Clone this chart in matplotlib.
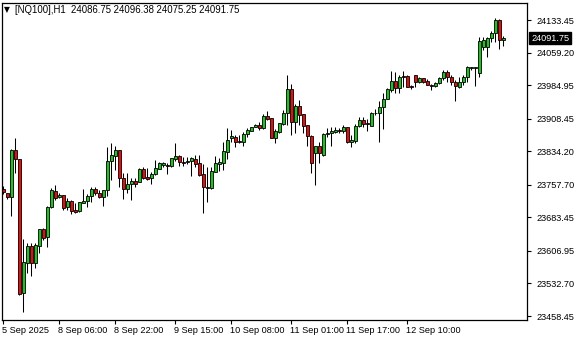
import numpy as np
import matplotlib
matplotlib.use("Agg")
import matplotlib.pyplot as plt
import matplotlib.transforms as mtrans

plt.rcParams['font.family'] = ['Liberation Sans', 'DejaVu Sans']

# NQ100 H1 candles (oldest -> newest)
opens = [23748.1, 23738.3, 23730.5, 23837.0, 23815.8, 23510.2, 23580.0, 23618.1, 23578.6, 23618.8,
         23656.9, 23637.9, 23706.3, 23743.5, 23730.5, 23734.4, 23706.3, 23720.7, 23700.2, 23697.9,
         23716.8, 23720.7, 23732.1, 23747.4, 23738.3, 23729.1, 23745.8, 23811.9, 23824.0, 23837.0,
         23773.8, 23747.4, 23758.8, 23766.3, 23764.7, 23793.0, 23775.4, 23773.8, 23781.6, 23794.4,
         23802.1, 23803.5, 23801.2, 23817.2, 23823.3, 23810.3, 23809.0, 23811.9, 23815.8, 23806.7,
         23781.6, 23752.6, 23749.7, 23787.5, 23805.1, 23808.0, 23833.1, 23863.7, 23866.0, 23858.2,
         23855.9, 23873.5, 23881.0, 23888.8, 23894.0, 23887.9, 23914.5, 23909.3, 23865.1, 23878.7,
         23895.6, 23922.1, 23976.1, 23901.5, 23937.3, 23919.1, 23894.0, 23868.9, 23830.8, 23846.1,
         23825.6, 23872.8, 23875.1, 23878.7, 23882.6, 23881.0, 23888.8, 23854.6, 23858.2, 23891.7,
         23905.4, 23899.3, 23892.4, 23920.7, 23920.7, 23934.4, 23953.3, 23973.8, 23995.0, 23977.7,
         24005.8, 24005.8, 23983.0, 24008.0, 23992.8, 24000.5, 23995.5, 23985.2, 23983.0, 23989.1,
         24000.5, 24015.6, 24004.2, 23992.8, 23981.4, 23992.8, 24004.2, 24023.3, 24023.3, 24013.3,
         24071.2, 24071.2, 24091.7, 24103.1, 24133.5, 24086.75]
highs = [23754.9, 23739.6, 23839.3, 23863.7, 23816.5, 23634.0, 23625.6, 23625.6, 23625.6, 23656.9,
         23659.8, 23709.3, 23749.7, 23756.5, 23739.6, 23735.0, 23728.2, 23723.0, 23716.8, 23719.1,
         23747.4, 23736.7, 23753.3, 23753.3, 23745.8, 23746.5, 23844.5, 23852.3, 23846.1, 23837.5,
         23785.2, 23783.9, 23773.8, 23773.8, 23796.6, 23797.6, 23795.3, 23787.5, 23814.2, 23810.3,
         23809.6, 23808.0, 23819.4, 23853.7, 23825.6, 23821.7, 23821.7, 23821.7, 23825.6, 23825.6,
         23804.4, 23797.6, 23798.9, 23823.3, 23818.1, 23855.9, 23886.5, 23882.6, 23870.5, 23870.5,
         23878.1, 23887.9, 23890.2, 23895.6, 23901.5, 23919.1, 23925.9, 23910.5, 23884.2, 23899.3,
         23928.2, 24008.0, 23987.5, 23941.9, 23951.0, 23919.5, 23894.5, 23871.2, 23846.5, 23855.9,
         23875.1, 23886.5, 23888.8, 23890.2, 23887.9, 23894.0, 23889.3, 23871.2, 23895.6, 23911.6,
         23912.9, 23907.0, 23924.3, 23929.8, 23948.7, 23966.3, 23979.1, 24017.2, 24015.6, 24008.0,
         24017.2, 24008.0, 23985.2, 24008.5, 24003.5, 24002.3, 23998.9, 23987.5, 23991.4, 24004.2,
         24019.4, 24019.4, 24008.0, 23996.6, 24004.2, 24008.0, 24028.6, 24026.9, 24026.9, 24095.4,
         24095.4, 24095.4, 24109.1, 24137.3, 24135.1, 24096.38]
lows = [23736.7, 23725.3, 23687.6, 23785.2, 23506.3, 23468.3, 23557.2, 23550.4, 23568.6, 23602.8,
        23631.8, 23616.5, 23704.1, 23723.0, 23726.9, 23700.2, 23700.2, 23691.1, 23694.0, 23696.3,
        23715.5, 23706.3, 23719.1, 23734.4, 23726.9, 23709.3, 23732.8, 23768.6, 23791.4, 23753.3,
        23725.3, 23738.3, 23723.0, 23753.3, 23763.3, 23770.2, 23768.6, 23758.8, 23780.0, 23793.0,
        23798.9, 23781.6, 23797.6, 23812.6, 23800.5, 23801.2, 23805.1, 23778.4, 23798.9, 23777.7,
        23694.0, 23719.1, 23748.8, 23787.0, 23789.8, 23791.4, 23815.8, 23855.9, 23844.5, 23852.3,
        23846.1, 23867.3, 23880.3, 23888.8, 23882.6, 23884.2, 23905.4, 23863.7, 23852.3, 23875.1,
        23894.0, 23894.0, 23871.2, 23875.1, 23894.0, 23875.1, 23846.1, 23783.9, 23757.2, 23808.0,
        23823.3, 23867.3, 23846.1, 23875.1, 23875.1, 23876.4, 23852.3, 23844.5, 23852.3, 23890.2,
        23890.2, 23881.0, 23891.7, 23916.8, 23855.9, 23884.9, 23952.6, 23969.9, 23966.3, 23966.3,
        23981.4, 23980.0, 23975.4, 23981.4, 23989.8, 23988.7, 23984.6, 23973.8, 23980.0, 23987.5,
        23996.6, 23992.8, 23985.2, 23949.4, 23977.7, 23985.2, 23992.8, 24019.4, 23983.0, 24004.2,
        24065.0, 24049.8, 24084.0, 24084.0, 24066.6, 24075.25]
closes = [23741.2, 23730.5, 23837.0, 23815.8, 23508.6, 23580.9, 23618.1, 23578.6, 23620.4, 23656.2,
          23637.0, 23706.3, 23745.8, 23728.2, 23734.4, 23704.1, 23720.7, 23697.9, 23696.3, 23717.7,
          23720.7, 23732.1, 23747.4, 23738.3, 23729.1, 23745.8, 23811.9, 23825.6, 23837.0, 23773.8,
          23747.4, 23759.5, 23766.3, 23758.8, 23793.7, 23773.8, 23771.6, 23782.3, 23796.0, 23806.7,
          23806.7, 23800.5, 23818.1, 23823.3, 23809.6, 23808.0, 23812.6, 23818.1, 23805.1, 23780.7,
          23752.6, 23751.0, 23789.1, 23806.7, 23810.3, 23834.7, 23859.8, 23868.9, 23855.9, 23855.9,
          23872.8, 23882.6, 23889.5, 23894.0, 23887.2, 23914.5, 23907.7, 23865.1, 23880.3, 23897.9,
          23922.1, 23976.1, 23901.5, 23937.3, 23916.8, 23891.7, 23868.9, 23808.0, 23846.1, 23830.8,
          23872.8, 23876.4, 23880.3, 23882.6, 23879.6, 23890.2, 23854.6, 23859.8, 23891.7, 23905.4,
          23895.6, 23895.6, 23922.1, 23922.1, 23934.4, 23952.6, 23975.4, 23995.0, 23977.7, 24002.8,
          24004.2, 23981.4, 23980.0, 23992.8, 24000.5, 23992.1, 23986.4, 23983.0, 23989.1, 24000.5,
          24015.6, 24004.2, 23992.8, 23983.0, 23992.8, 24004.2, 24025.6, 24025.6, 24025.6, 24085.6,
          24087.8, 24091.7, 24103.1, 24133.5, 24087.8, 24091.75]

price_ticks = [23458.45, 23532.70, 23606.95, 23683.45, 23757.70, 23834.20, 23908.45, 23984.95, 24059.20, 24133.45]
time_pos = [0, 14, 28, 43, 57, 72, 86, 101]
time_labels = ['5 Sep 2025', '8 Sep 06:00', '8 Sep 22:00', '9 Sep 15:00',
               '10 Sep 08:00', '11 Sep 01:00', '11 Sep 17:00', '12 Sep 10:00']
header = '[NQ100],H1  24086.75 24096.38 24075.25 24091.75'
last_price = 24091.75

bull = '#22c022'
bear = '#e01010'

o = np.array(opens); h = np.array(highs); l = np.array(lows); c = np.array(closes)
x = np.arange(len(o))

fig = plt.figure(figsize=(5.8, 3.4), dpi=100)
ax = fig.add_axes([2/580, 1-319.5/340, 525/580, 317/340])

ax.vlines(x, l, h, color='black', linewidth=0.75, zorder=1)
cols = [bull if cc >= oo else bear for oo, cc in zip(o, c)]
ax.bar(x, c-o, bottom=o, width=0.62, color=cols, edgecolor='black', linewidth=0.6, zorder=2)

ax.set_xlim(-0.33, -0.33 + 525/4)
ax.set_ylim(23450.5, 24173.4)

ax.yaxis.tick_right()
ax.set_yticks(price_ticks)
ax.set_yticklabels(['%.2f' % v for v in price_ticks])
ax.tick_params(axis='y', length=3, width=0.8, pad=4, labelsize=6.6, direction='out')

ax.set_xticks(time_pos)
ax.set_xticklabels(time_labels, ha='left')
ax.tick_params(axis='x', length=3, width=0.8, pad=1.5, labelsize=6.6, direction='out')
offs = mtrans.ScaledTranslation(-1/100, 0, fig.dpi_scale_trans)
for lab in ax.get_xticklabels():
    lab.set_transform(lab.get_transform() + offs)

for s in ax.spines.values():
    s.set_linewidth(0.9)
    s.set_color('black')

# current price marker
trans = mtrans.blended_transform_factory(ax.transAxes, ax.transData)
ax.text(1.0 + 4/525, last_price, '%.2f' % last_price, transform=trans, color='white',
        fontsize=6.6, va='center', ha='left',
        bbox=dict(facecolor='black', edgecolor='black', pad=1.2), zorder=5, clip_on=False)

fig.text(4/580, 1-10/340, '\u25bc', fontsize=5.5, va='center', ha='left', family=['DejaVu Sans'])
fig.text(15/580, 1-10/340, header, fontsize=6.9, va='center', ha='left')

fig.savefig('out.png', dpi=100)
